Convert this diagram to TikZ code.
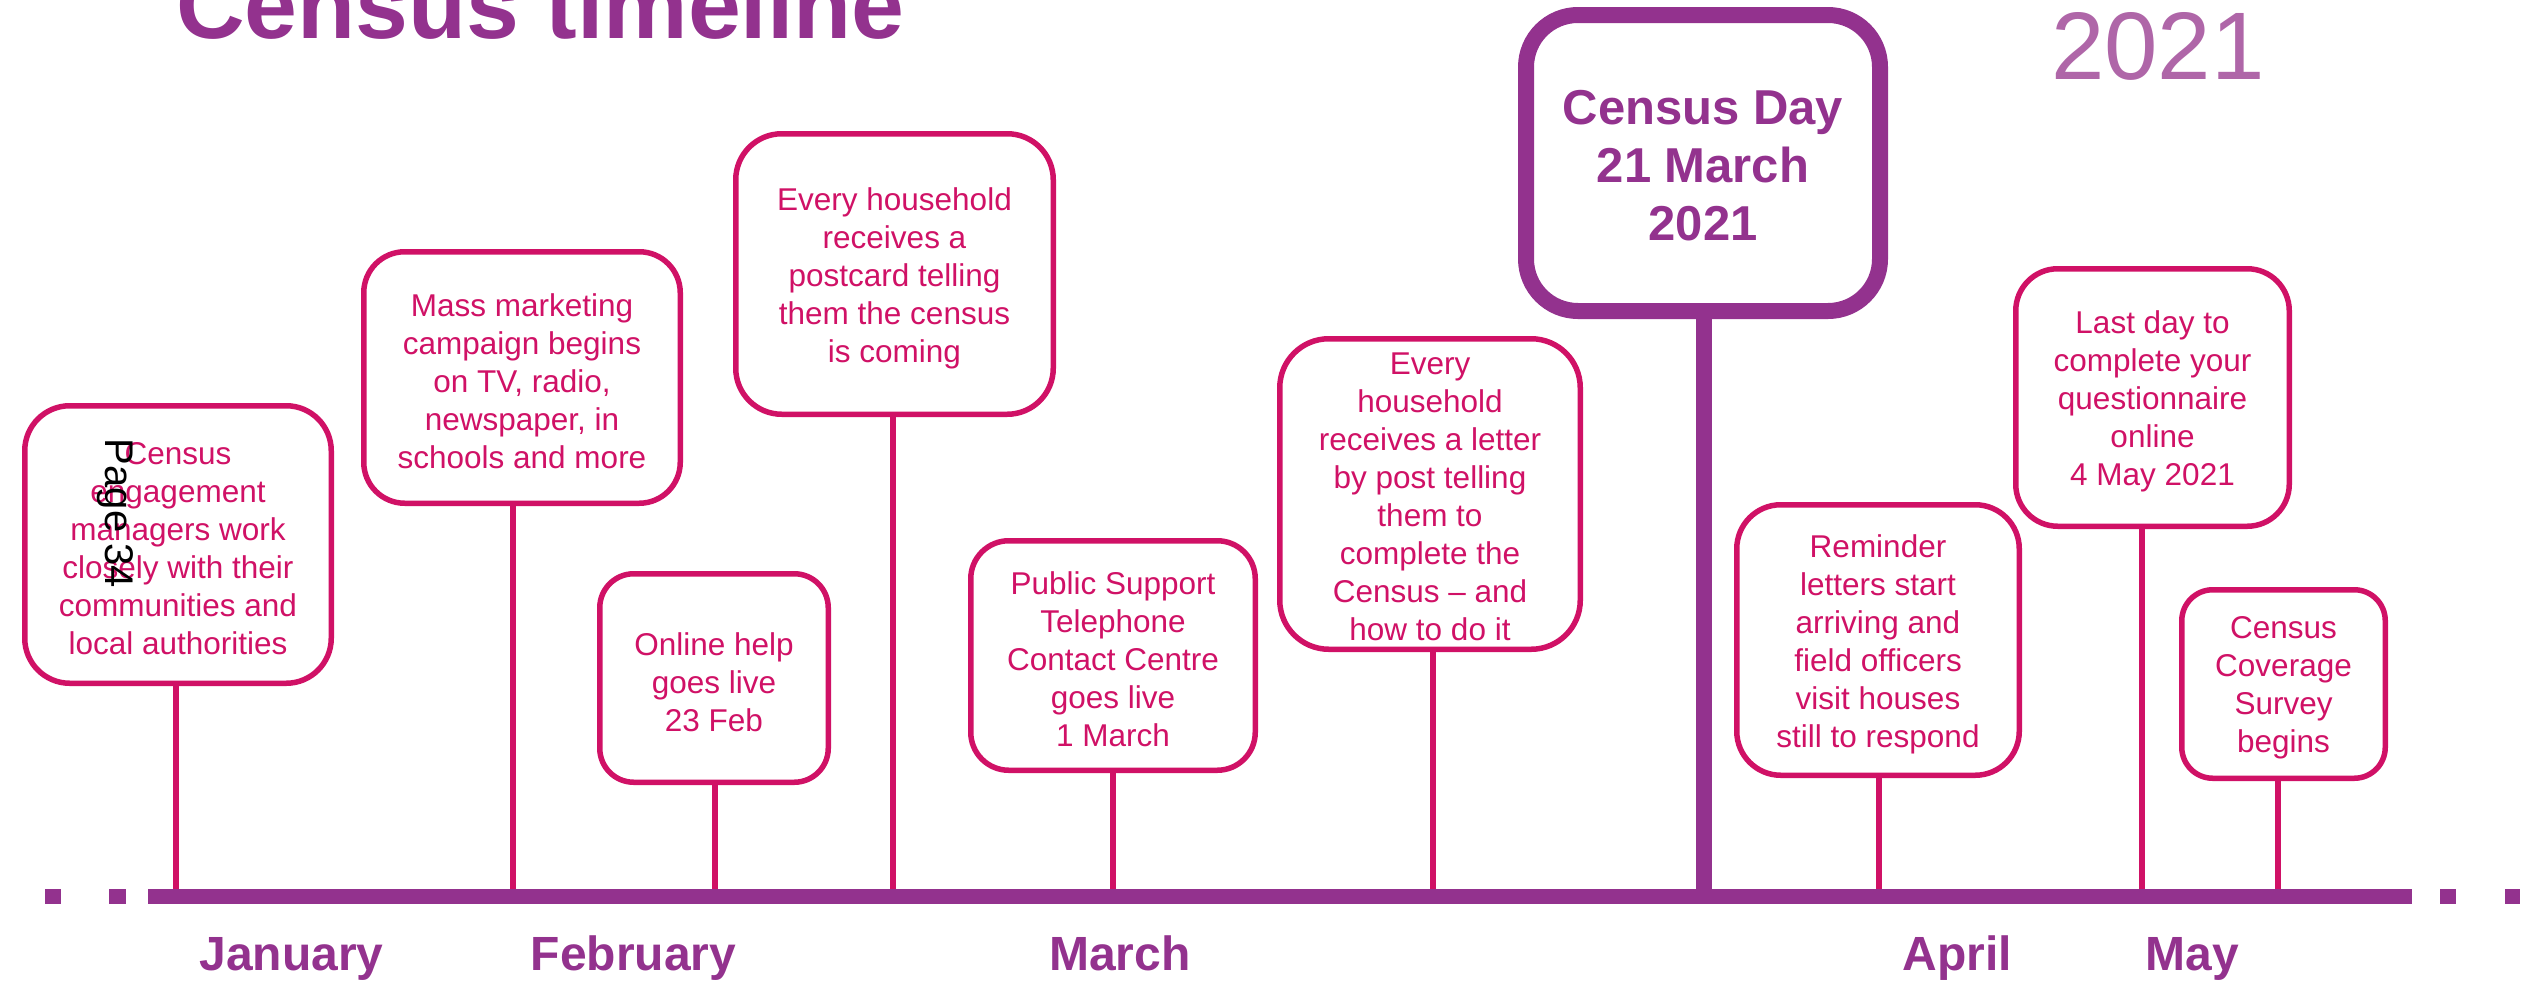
\documentclass[tikz,border=0pt]{standalone}
\usepackage{fontspec}
\setmainfont{Liberation Sans}
\definecolor{onspurple}{HTML}{93328E}
\definecolor{crim}{HTML}{D01166}
\definecolor{lilac}{HTML}{AF66A8}
\begin{document}
\begin{tikzpicture}[x=1pt,y=-1pt,
  box/.style={draw=crim, line width=5.5pt, fill=white, inner sep=0pt, rounded corners=#1pt},
  boxtext/.style={text=crim, align=center, inner sep=0pt, font=\fontsize{31.5}{38}\selectfont},
  daybox/.style={draw=onspurple, line width=16pt, fill=white, inner sep=0pt, rounded corners=52pt},
  daytext/.style={text=onspurple, align=center, inner sep=0pt, font=\fontsize{49}{58}\selectfont\bfseries},
  stem/.style={draw=crim, line width=5.5pt},
  daystem/.style={draw=onspurple, line width=16pt},
  month/.style={text=onspurple, font=\fontsize{48}{58}\selectfont\bfseries, anchor=base, inner sep=0pt},
  dot/.style={fill=onspurple}]
\useasboundingbox (0,0) rectangle (2526,980);
\clip (0,0) rectangle (2526,980);

% title and year
\node[anchor=base west, inner sep=0pt, text=onspurple, font=\fontsize{95}{100}\selectfont\bfseries] (title) at (176,38) {Census timeline};
\node[anchor=base, inner sep=0pt, text=lilac, font=\fontsize{96}{100}\selectfont] (year) at (2158,79) {2021};

% timeline bar and dots
\node[fill=onspurple, minimum width=2264pt, minimum height=15pt, inner sep=0pt, outer sep=0pt] (bar) at (1280,896.5) {};
\fill[dot] (45,889) rectangle (61,904);
\fill[dot] (109,889) rectangle (126,904);
\fill[dot] (2440,889) rectangle (2456,904);
\fill[dot] (2505,889) rectangle (2520,904);

% stem foot coordinates on the bar
\coordinate (t1) at (176,889);
\coordinate (t2) at (513,889);
\coordinate (t3) at (715,889);
\coordinate (t4) at (893,889);
\coordinate (t5) at (1113,889);
\coordinate (t6) at (1433,889);
\coordinate (t7) at (1704,889);
\coordinate (t8) at (1879,889);
\coordinate (t9) at (2142,889);
\coordinate (t10) at (2278,889);

% boxes
\node[box=45, minimum width=306.5pt, minimum height=277.5pt] (b1) at (178,544.5) {};
\node[box=41, minimum width=316.5pt, minimum height=251.5pt] (b2) at (522,377.5) {};
\node[box=34, minimum width=228.5pt, minimum height=208.5pt] (b3) at (714,678) {};
\node[box=46, minimum width=317.5pt, minimum height=280.5pt] (b4) at (894.5,274) {};
\node[box=38, minimum width=284.5pt, minimum height=229.5pt] (b5) at (1113,655.5) {};
\node[box=49, minimum width=300.5pt, minimum height=310.5pt] (b6) at (1430,494) {};
\node[daybox, minimum width=354pt, minimum height=296pt] (cday) at (1703,163) {};
\node[box=44, minimum width=282.5pt, minimum height=270.5pt] (b7) at (1878,640) {};
\node[box=42, minimum width=273.5pt, minimum height=257.5pt] (b8) at (2152.5,397.5) {};
\node[box=31, minimum width=203.5pt, minimum height=188.5pt] (b9) at (2283.5,684) {};

% box texts
\node[boxtext] (b1t) at ([yshift=-4pt]b1.center)
  {Census\\engagement\\managers work\\closely with their\\communities and\\local authorities};
\node[boxtext] (b2t) at ([yshift=-4pt]b2.center)
  {Mass marketing\\campaign begins\\on TV, radio,\\newspaper, in\\schools and more};
\node[boxtext] (b3t) at ([yshift=-4pt]b3.center)
  {Online help\\goes live\\23 Feb};
\node[boxtext] (b4t) at ([yshift=-4pt]b4.center)
  {Every household\\receives a\\postcard telling\\them the census\\is coming};
\node[boxtext] (b5t) at ([yshift=-4pt]b5.center)
  {Public Support\\Telephone\\Contact Centre\\goes live\\1 March};
\node[boxtext] (b6t) at ([yshift=-3pt]b6.center)
  {Every\\household\\receives a letter\\by post telling\\them to\\complete the\\Census – and\\how to do it};
\node[daytext] (cdayt) at ([yshift=-3pt]cday.center)
  {Census Day\\21 March\\2021};
\node[boxtext] (b7t) at ([yshift=-4pt]b7.center)
  {Reminder\\letters start\\arriving and\\field officers\\visit houses\\still to respond};
\node[boxtext] (b8t) at ([yshift=-4pt]b8.center)
  {Last day to\\complete your\\questionnaire\\online\\4 May 2021};
\node[boxtext] (b9t) at ([yshift=-4pt]b9.center)
  {Census\\Coverage\\Survey\\begins};

% stems
\draw[stem] (b1.south -| t1) -- (t1);
\draw[stem] (b2.south -| t2) -- (t2);
\draw[stem] (b3.south -| t3) -- (t3);
\draw[stem] (b4.south -| t4) -- (t4);
\draw[stem] (b5.south -| t5) -- (t5);
\draw[stem] (b6.south -| t6) -- (t6);
\draw[daystem] (cday.south -| t7) -- (t7);
\draw[stem] (b7.south -| t8) -- (t8);
\draw[stem] (b8.south -| t9) -- (t9);
\draw[stem] (b9.south -| t10) -- (t10);

% months
\node[month] (jan) at (291.5,970) {January};
\node[month] (feb) at (633.5,970) {February};
\node[month] (mar) at (1120,970) {March};
\node[month] (apr) at (1957,970) {April};
\node[month] (may) at (2192,970) {May};

% page marker
\node[rotate=-90, anchor=base, inner sep=0pt, font=\fontsize{40}{48}\selectfont] (page) at (105,513.5) {Page 34};
\end{tikzpicture}
\end{document}
